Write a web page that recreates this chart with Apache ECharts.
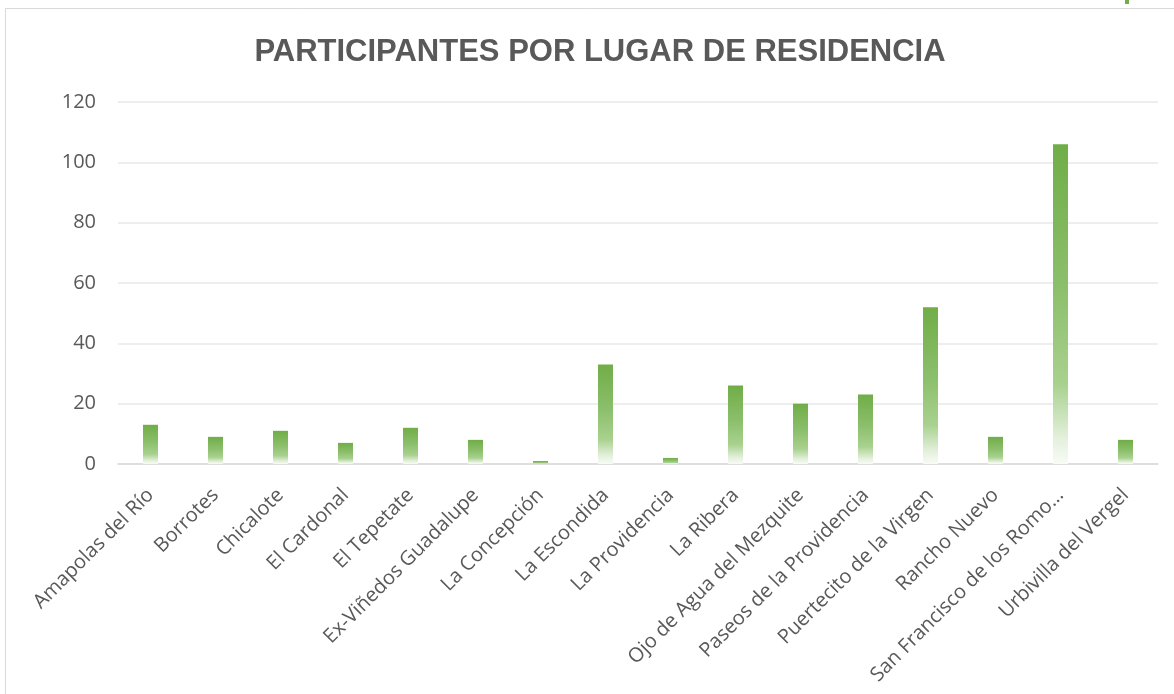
<!DOCTYPE html>
<html>
<head>
    <meta charset="utf-8"/>
    <title>Participantes por lugar de residencia</title>
    <script type="text/javascript" src="https://cdn.jsdelivr.net/npm/echarts@6/dist/echarts.min.js"></script>
    <style>
        html, body { margin: 0; padding: 0; background: #fff; }
    </style>
</head>
<body>
<div id="main" style="width: 1174px;height:694px;"></div>
<script type="text/javascript">
    // datos
    var titulo = 'PARTICIPANTES POR LUGAR DE RESIDENCIA';
    var lugares = ['Amapolas del Río', 'Borrotes', 'Chicalote', 'El Cardonal', 'El Tepetate',
        'Ex-Viñedos Guadalupe', 'La Concepción', 'La Escondida', 'La Providencia', 'La Ribera',
        'Ojo de Agua del Mezquite', 'Paseos de la Providencia', 'Puertecito de la Virgen',
        'Rancho Nuevo', 'San Francisco de los Romo...', 'Urbivilla del Vergel'];
    var participantes = [13, 9, 11, 7, 12, 8, 1, 33, 2, 26, 20, 23, 52, 9, 106, 8];
    var yTicks = [0, 20, 40, 60, 80, 100, 120];

    var myChart = echarts.init(document.getElementById('main'));

    // degradado verde -> blanco en cada barra
    var verde = new echarts.graphic.LinearGradient(0, 0, 0, 1, [
        {offset: 0, color: '#70AD47'},
        {offset: 0.45, color: '#8cbf6c'},
        {offset: 0.75, color: '#a8d18e'},
        {offset: 0.92, color: '#e4f0dc'},
        {offset: 1, color: '#f8fbf6'}
    ]);

    var option = {
        animation: false,
        title: {
            text: titulo,
            left: 595,
            textAlign: 'center',
            top: 32,
            textStyle: {
                fontFamily: '"Liberation Sans", sans-serif',
                fontSize: 31,
                fontWeight: 'bold',
                color: '#595959'
            }
        },
        graphic: [{
            // marco del gráfico
            type: 'rect',
            shape: {x: 5.5, y: 8.5, width: 1200, height: 720},
            style: {fill: 'none', stroke: '#d9d9d9', lineWidth: 1},
            silent: true
        }, {
            type: 'rect',
            shape: {x: 1125, y: 0, width: 4, height: 4},
            style: {fill: '#70AD47'},
            silent: true
        }],
        grid: {
            left: 118,
            right: 16,
            top: 102,
            bottom: 230
        },
        xAxis: {
            type: 'category',
            data: lugares,
            axisLine: {lineStyle: {color: '#d9d9d9', width: 1.5}},
            axisTick: {show: false},
            axisLabel: {
                interval: 0,
                rotate: 45,
                margin: 28,
                fontFamily: '"Open Sans", sans-serif',
                fontSize: 20,
                color: '#595959'
            }
        },
        yAxis: {
            type: 'value',
            min: yTicks[0],
            max: yTicks[yTicks.length - 1],
            interval: 20,
            axisLine: {show: false},
            axisTick: {show: false},
            splitLine: {lineStyle: {color: '#e8e8e8', width: 1.5}},
            axisLabel: {
                margin: 22,
                fontFamily: '"Open Sans", sans-serif',
                fontSize: 20,
                color: '#595959'
            }
        },
        series: [{
            name: 'Participantes',
            type: 'bar',
            data: participantes,
            barWidth: 15,
            itemStyle: {color: verde}
        }]
    };
    myChart.setOption(option);
</script>
</body>
</html>
